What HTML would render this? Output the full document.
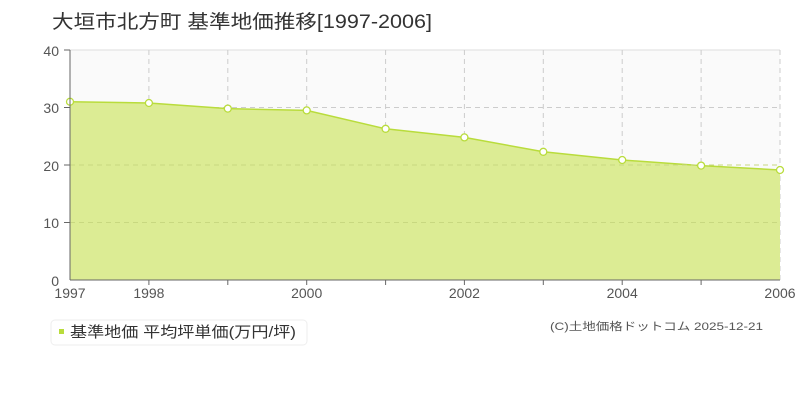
<!DOCTYPE html>
<html><head><meta charset="utf-8"><style>
body{margin:0;background:#fff;}
svg text{font-family:"Liberation Sans","Noto Sans CJK JP",sans-serif;}
</style></head><body>
<svg width="800" height="400" viewBox="0 0 800 400" xmlns="http://www.w3.org/2000/svg">
<rect width="800" height="400" fill="#fff"/>
<text x="52" y="28" font-size="19" fill="#333" textLength="380" lengthAdjust="spacingAndGlyphs">大垣市北方町 基準地価推移[1997-2006]</text>
<rect x="70" y="50" width="710" height="230" fill="#fafafa"/>
<line x1="70" y1="50" x2="780" y2="50" stroke="#ddd"/>
<g stroke="#ccc" stroke-dasharray="5,4">
<line x1="148.9" y1="50" x2="148.9" y2="280"/><line x1="227.8" y1="50" x2="227.8" y2="280"/>
<line x1="306.7" y1="50" x2="306.7" y2="280"/><line x1="385.6" y1="50" x2="385.6" y2="280"/>
<line x1="464.4" y1="50" x2="464.4" y2="280"/><line x1="543.3" y1="50" x2="543.3" y2="280"/>
<line x1="622.2" y1="50" x2="622.2" y2="280"/><line x1="701.1" y1="50" x2="701.1" y2="280"/>
<line x1="780" y1="50" x2="780" y2="280"/>
<line x1="70" y1="107.5" x2="780" y2="107.5"/><line x1="70" y1="165" x2="780" y2="165"/><line x1="70" y1="222.5" x2="780" y2="222.5"/>
</g>
<polygon points="70,280 70,101.75 148.9,103 227.8,108.6 306.7,110.4 385.6,128.8 464.4,137.4 543.3,151.8 622.2,160 701.1,165.6 780,170 780,280" fill="#dcec94"/>
<polyline points="70,101.75 148.9,103 227.8,108.6 306.7,110.4 385.6,128.8 464.4,137.4 543.3,151.8 622.2,160 701.1,165.6 780,170" fill="none" stroke="#b9dc3c" stroke-width="1.5"/>
<g stroke="#c8d880" stroke-dasharray="5,4">
<line x1="70" y1="165" x2="780" y2="165"/><line x1="70" y1="222.5" x2="780" y2="222.5"/>
</g>
<g fill="#fff" stroke="#b9dc3c" stroke-width="1.3">
<circle cx="70" cy="101.75" r="3.5"/><circle cx="148.9" cy="103" r="3.5"/><circle cx="227.8" cy="108.6" r="3.5"/>
<circle cx="306.7" cy="110.4" r="3.5"/><circle cx="385.6" cy="128.8" r="3.5"/><circle cx="464.4" cy="137.4" r="3.5"/>
<circle cx="543.3" cy="151.8" r="3.5"/><circle cx="622.2" cy="160" r="3.5"/><circle cx="701.1" cy="165.6" r="3.5"/>
<circle cx="780" cy="170" r="3.5"/>
</g>
<line x1="70" y1="50" x2="70" y2="280" stroke="#666"/>
<line x1="70" y1="280" x2="780" y2="280" stroke="#666"/>
<g stroke="#666">
<line x1="64" y1="50" x2="70" y2="50"/><line x1="64" y1="107.5" x2="70" y2="107.5"/><line x1="64" y1="165" x2="70" y2="165"/><line x1="64" y1="222.5" x2="70" y2="222.5"/>
<line x1="148.9" y1="280" x2="148.9" y2="285"/><line x1="227.8" y1="280" x2="227.8" y2="285"/><line x1="306.7" y1="280" x2="306.7" y2="285"/>
<line x1="385.6" y1="280" x2="385.6" y2="285"/><line x1="464.4" y1="280" x2="464.4" y2="285"/><line x1="543.3" y1="280" x2="543.3" y2="285"/>
<line x1="622.2" y1="280" x2="622.2" y2="285"/><line x1="701.1" y1="280" x2="701.1" y2="285"/>
</g>
<g font-size="14" fill="#555" text-anchor="end">
<text x="59" y="56">40</text><text x="59" y="113">30</text><text x="59" y="171">20</text><text x="59" y="228">10</text><text x="59" y="286">0</text>
</g>
<g font-size="14" fill="#555" text-anchor="middle">
<text x="70" y="298">1997</text><text x="148.9" y="298">1998</text><text x="306.7" y="298">2000</text>
<text x="464.4" y="298">2002</text><text x="622.2" y="298">2004</text><text x="780" y="298">2006</text>
</g>
<rect x="51" y="320" width="256" height="25" rx="4" fill="#fff" stroke="#eee"/>
<rect x="59" y="329" width="5" height="5" fill="#b9dc3c"/>
<text x="70" y="337" font-size="15" fill="#333" textLength="226" lengthAdjust="spacingAndGlyphs">基準地価 平均坪単価(万円/坪)</text>
<text x="550" y="330" font-size="11" fill="#555" textLength="213" lengthAdjust="spacingAndGlyphs">(C)土地価格ドットコム 2025-12-21</text>
</svg>
</body></html>
